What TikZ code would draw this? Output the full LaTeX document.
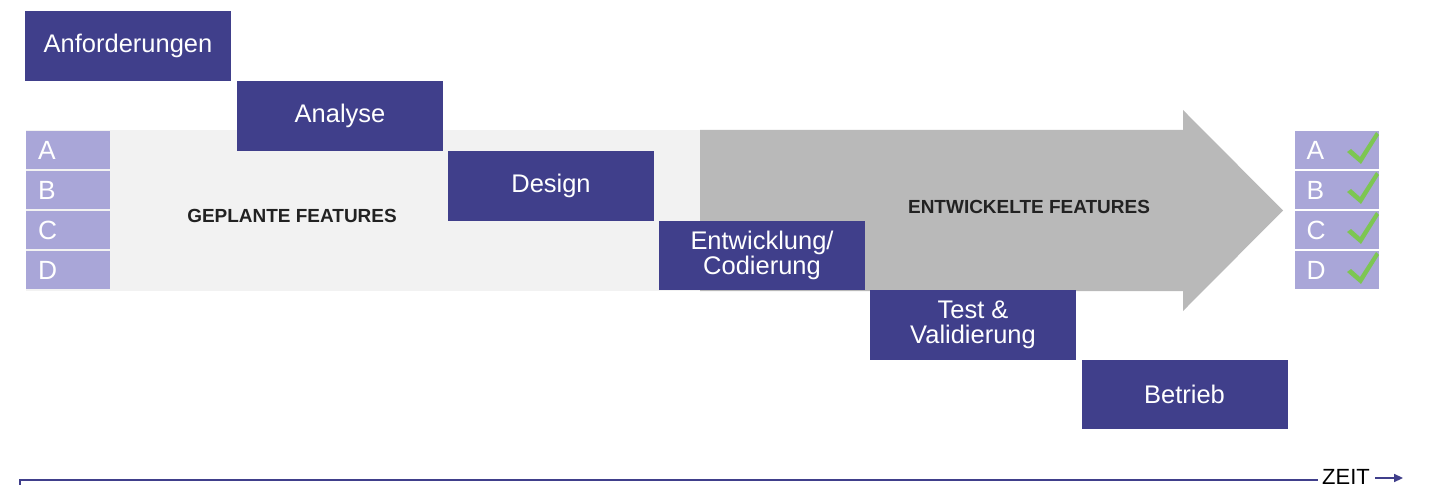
\documentclass[tikz,border=0pt]{standalone}
\usepackage{fontspec}
\setmainfont{Liberation Sans}
\usetikzlibrary{arrows.meta}
\definecolor{phBlue}{HTML}{403F8B}
\definecolor{phLilac}{HTML}{A9A6D8}
\definecolor{phPale}{HTML}{F2F2F2}
\definecolor{phGrey}{HTML}{B9B9B9}
\definecolor{phGreen}{HTML}{7DC653}
\definecolor{phInk}{HTML}{222222}
\tikzset{
  phasebox/.style={
    fill=phBlue,
    text=white,
    minimum width=4.12cm,
    minimum height=1.4cm,
    inner sep=0pt,
    align=center,
    font=\fontsize{14.5}{14.5}\selectfont
  },
  featbox/.style={
    fill=phLilac,
    text=white,
    minimum height=0.76cm,
    text width=1.2cm,
    inner xsep=0.24cm,
    inner ysep=0pt,
    align=left,
    font=\fontsize{15}{15}\selectfont
  },
  bandlabel/.style={text=phInk, font=\bfseries\fontsize{10.8}{12}\selectfont},
  zeitline/.style={draw=phBlue, line width=1.1pt}
}

\begin{document}
\begin{tikzpicture}[x=0.02cm, y=-0.02cm]
  \useasboundingbox (0,0) rectangle (1452,493);

  % band of planned features and arrow of developed ones
  \fill[phPale] (26,130) rectangle (700,291);
  \fill[phGrey] (700,130) -- (1183,130) -- (1183,110) -- (1283,210.5)
    -- (1183,311) -- (1183,291) -- (700,291) -- cycle;
  \node[bandlabel] (geplant) at (292,216) {GEPLANTE FEATURES};
  \node[bandlabel] (entwickelt) at (1029,207) {ENTWICKELTE FEATURES};

  % feature rows, left open, right done
  \foreach \f/\y in {A/150, B/190, C/230, D/270} {
    \node[featbox] (plan\f) at (68,\y) {\f};
    \node[featbox] (done\f) at (1336.5,\y) {\f};
    \fill[phGreen] (1347,\y+2) -- (1351,\y-1) -- (1360,\y+7) -- (1376,\y-18)
      -- (1379,\y-15) -- (1361,\y+14) -- cycle;
  }

  % phases
  \node[phasebox] (anf) at (128,46) {Anforderungen};
  \node[phasebox] (ana) at (340,116) {Analyse};
  \node[phasebox] (des) at (551,186) {Design};
  \node[phasebox] (dev) at (762,255.5) {Entwicklung/\\Codierung};
  \node[phasebox] (test) at (973,325) {Test \&\\Validierung};
  \node[phasebox] (ops) at (1184.5,394.5) {Betrieb};

  % time axis
  \coordinate (zeitstart) at (20,480);
  \coordinate (zeitend) at (1403,478);
  \node[font=\fontsize{12.5}{13}\selectfont, inner sep=0pt] (zeit) at (1346,477) {ZEIT};
  \draw[zeitline] ([yshift=-2.6pt]zeitstart) -- (zeitstart) -- ([xshift=-2pt]zeitstart -| zeit.west);
  \draw[zeitline, line width=0.9pt, -{Triangle[length=5pt,width=4.5pt]}]
    ([xshift=3pt]zeit.east |- zeitend) -- (zeitend);
\end{tikzpicture}
\end{document}
